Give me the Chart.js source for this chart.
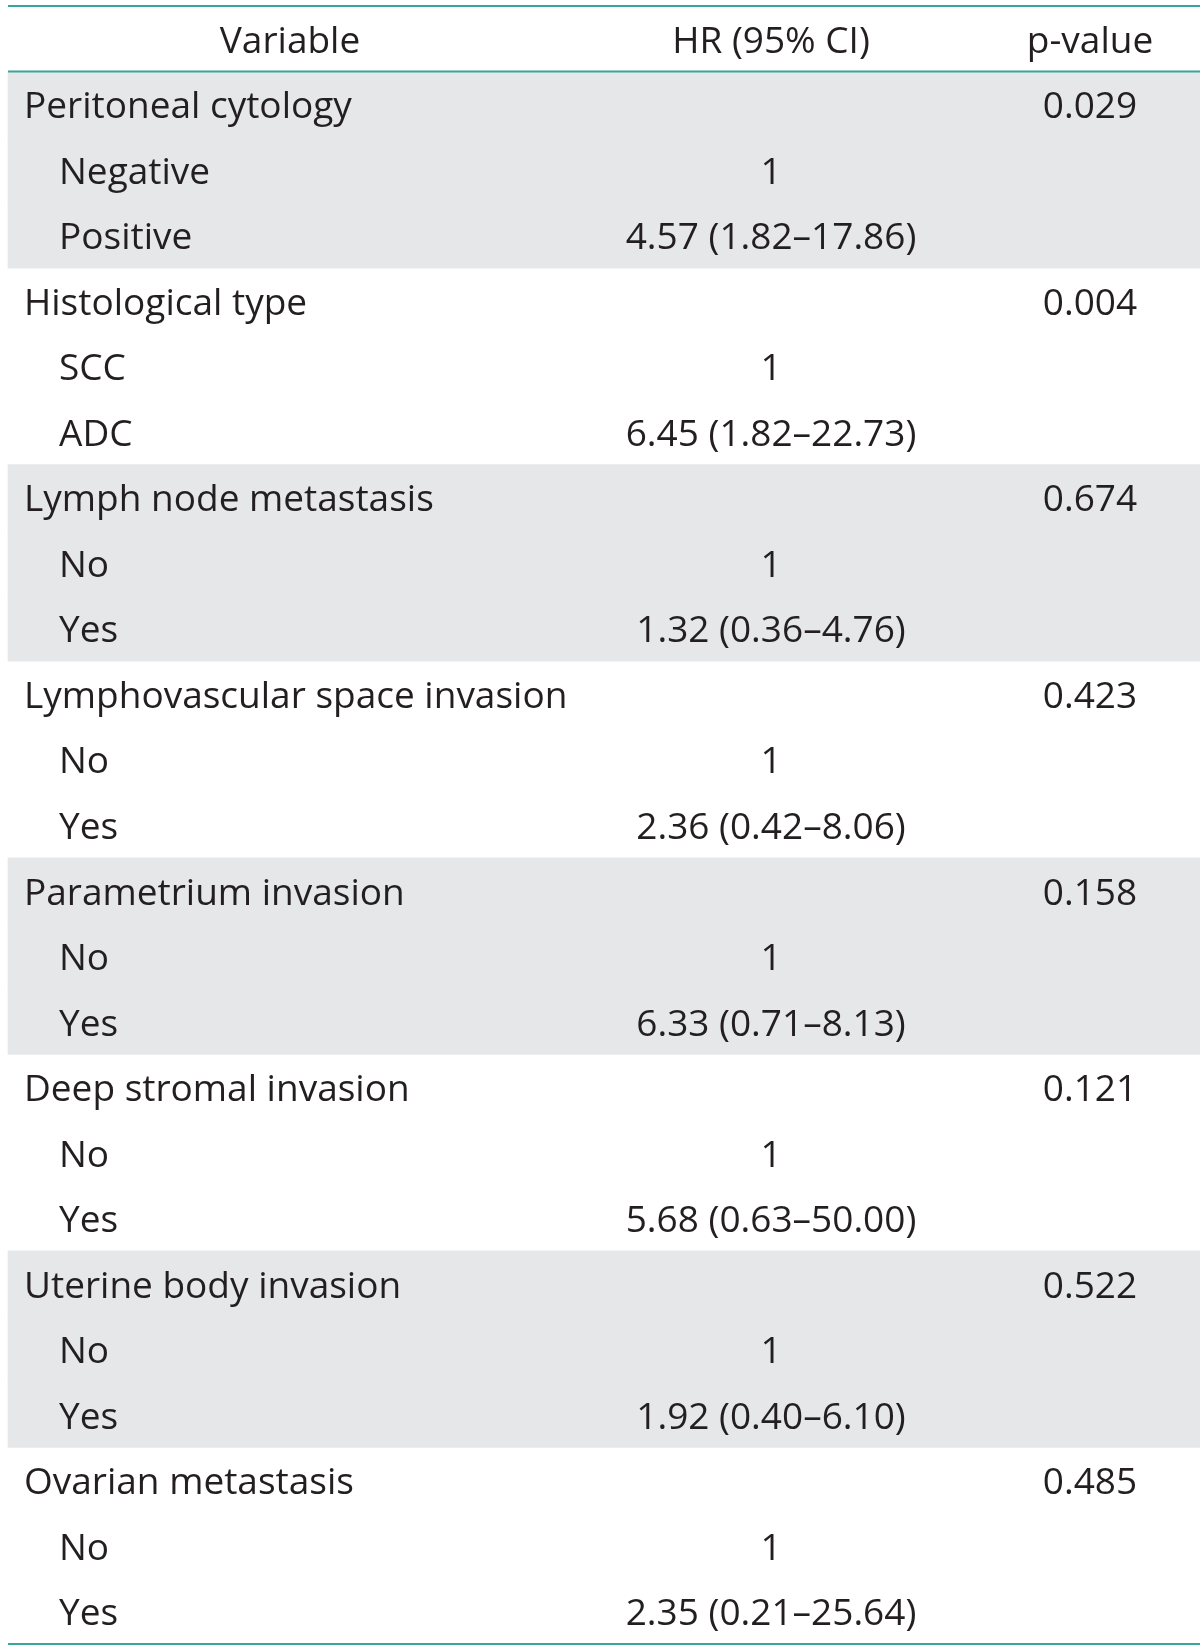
<!DOCTYPE html>
<html>
<head>
<meta charset="utf-8">
<script src="https://cdn.jsdelivr.net/npm/chart.js@4.4.1/dist/chart.umd.min.js"></script>
<style>
  html, body { margin: 0; padding: 0; background: #ffffff; }
  #wrap { width: 1200px; height: 1649px; position: relative; }
</style>
</head>
<body>
<div id="wrap"><canvas id="c" width="1200" height="1649"></canvas></div>
<script>
// ---------- DATA ----------
const headers = ['Variable', 'HR (95% CI)', 'p-value'];
const variables = [
  'Peritoneal cytology',
  'Histological type',
  'Lymph node metastasis',
  'Lymphovascular space invasion',
  'Parametrium invasion',
  'Deep stromal invasion',
  'Uterine body invasion',
  'Ovarian metastasis'
];
const referenceLevels = ['Negative', 'SCC', 'No', 'No', 'No', 'No', 'No', 'No'];
const compareLevels   = ['Positive', 'ADC', 'Yes', 'Yes', 'Yes', 'Yes', 'Yes', 'Yes'];
const referenceHR = ['1', '1', '1', '1', '1', '1', '1', '1'];
const hrValues = ['4.57', '6.45', '1.32', '2.36', '6.33', '5.68', '1.92', '2.35'];
const ciLower  = ['1.82', '1.82', '0.36', '0.42', '0.71', '0.63', '0.40', '0.21'];
const ciUpper  = ['17.86', '22.73', '4.76', '8.06', '8.13', '50.00', '6.10', '25.64'];
const pValues  = ['0.029', '0.004', '0.674', '0.423', '0.158', '0.121', '0.522', '0.485'];

// ---------- TABLE ROWS (built from data) ----------
const rows = [{ kind: 'header' }];
variables.forEach((v, g) => {
  const shaded = g % 2 === 0;
  rows.push({ kind: 'group', label: v, p: pValues[g], shaded });
  rows.push({ kind: 'level', label: referenceLevels[g], hr: referenceHR[g], shaded });
  rows.push({ kind: 'level', label: compareLevels[g],
              hr: hrValues[g] + ' (' + ciLower[g] + '\u2013' + ciUpper[g] + ')', shaded });
});
const rowLabels = rows.map((r, i) => r.kind === 'header' ? 'header' : r.label + '#' + i);

// ---------- STYLE ----------
const FONT = '"Open Sans", "DejaVu Sans", sans-serif';
const FONT_SIZE = 37;
const TEXT_COLOR = '#231f20';
const SHADE = '#e6e7e9';
const RULE = '#35a69c';
const COL = { left: 8, right: 1200, groupX: 24, levelX: 59, varCenter: 290, hrCenter: 771, pCenter: 1090 };

const shadeData = rows.map(r => r.shaded ? [COL.left, COL.right] : null);

const tablePlugin = {
  id: 'tableText',
  afterDatasetsDraw(chart) {
    const ctx = chart.ctx;
    const xs = chart.scales.x, ys = chart.scales.y;
    const band = Math.abs(ys.getPixelForValue(1) - ys.getPixelForValue(0));
    ctx.save();
    ctx.fillStyle = TEXT_COLOR;
    ctx.font = FONT_SIZE + 'px ' + FONT;
    ctx.textBaseline = 'alphabetic';
    const baseOff = 14;
    rows.forEach((r, i) => {
      const y = ys.getPixelForValue(i) + baseOff;
      if (r.kind === 'header') {
        ctx.textAlign = 'center';
        ctx.fillText(headers[0], xs.getPixelForValue(COL.varCenter), y);
        ctx.fillText(headers[1], xs.getPixelForValue(COL.hrCenter), y);
        ctx.fillText(headers[2], xs.getPixelForValue(COL.pCenter), y);
      } else if (r.kind === 'group') {
        ctx.textAlign = 'left';
        ctx.fillText(r.label, xs.getPixelForValue(COL.groupX), y);
        ctx.textAlign = 'center';
        ctx.fillText(r.p, xs.getPixelForValue(COL.pCenter), y);
      } else {
        ctx.textAlign = 'left';
        ctx.fillText(r.label, xs.getPixelForValue(COL.levelX), y);
        ctx.textAlign = 'center';
        ctx.fillText(r.hr, xs.getPixelForValue(COL.hrCenter), y);
      }
    });
    // horizontal rules
    ctx.strokeStyle = RULE;
    ctx.lineWidth = 2;
    const x0 = xs.getPixelForValue(COL.left), x1 = xs.getPixelForValue(COL.right);
    const ruleAt = [
      ys.getPixelForValue(0) - band / 2,
      ys.getPixelForValue(0) + band / 2,
      ys.getPixelForValue(rows.length - 1) + band / 2
    ];
    ruleAt.forEach(yy => {
      ctx.beginPath();
      ctx.moveTo(x0, yy);
      ctx.lineTo(x1, yy);
      ctx.stroke();
    });
    ctx.restore();
  }
};

new Chart(document.getElementById('c'), {
  type: 'bar',
  data: {
    labels: rowLabels,
    datasets: [{
      data: shadeData,
      backgroundColor: SHADE,
      borderWidth: 0,
      barPercentage: 1,
      categoryPercentage: 1
    }]
  },
  options: {
    indexAxis: 'y',
    responsive: false,
    animation: false,
    layout: { padding: { top: 6, bottom: 5, left: 0, right: 0 } },
    plugins: { legend: { display: false }, tooltip: { enabled: false } },
    scales: {
      x: { type: 'linear', min: 0, max: 1200, display: false },
      y: { type: 'category', display: false, offset: true }
    }
  },
  plugins: [tablePlugin]
});
</script>
</body>
</html>
